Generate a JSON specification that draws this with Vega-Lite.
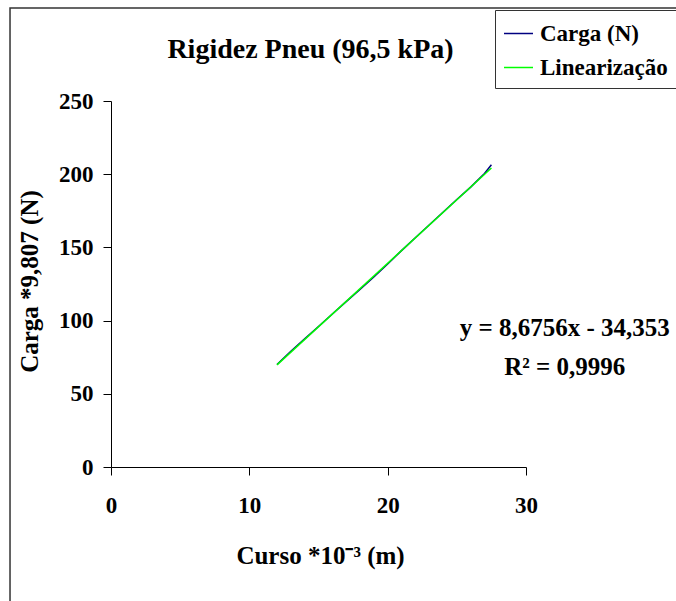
{
  "$schema": "https://vega.github.io/schema/vega-lite/v6.json",
  "width": 415,
  "height": 366,
  "autosize": {"type": "none"},
  "padding": {"left": 111, "top": 101, "right": 150, "bottom": 134},
  "background": "white",
  "config": {
    "font": "Liberation Serif",
    "view": {"stroke": null},
    "axis": {"grid": false, "labelFlush": false, "domainColor": "black", "tickColor": "black", "tickSize": 8, "labelFont": "Liberation Serif", "labelFontWeight": "bold", "labelFontSize": 23, "labelColor": "black", "titleFont": "Liberation Serif", "titleFontWeight": "bold", "titleFontSize": 25, "titleColor": "black"}
  },
  "title": {"text": "Rigidez Pneu (96,5 kPa)", "font": "Liberation Serif", "fontSize": 28, "fontWeight": "bold", "color": "black", "dx": -8, "offset": -57},
  "datasets": {
    "lines": [
      {"curso": 12, "carga": 70, "serie": "Carga (N)"},
      {"curso": 13, "carga": 79, "serie": "Carga (N)"},
      {"curso": 14, "carga": 87.5, "serie": "Carga (N)"},
      {"curso": 15, "carga": 96, "serie": "Carga (N)"},
      {"curso": 16, "carga": 104.5, "serie": "Carga (N)"},
      {"curso": 17, "carga": 113, "serie": "Carga (N)"},
      {"curso": 18, "carga": 121.3, "serie": "Carga (N)"},
      {"curso": 19, "carga": 129.8, "serie": "Carga (N)"},
      {"curso": 20, "carga": 138.7, "serie": "Carga (N)"},
      {"curso": 21, "carga": 147.8, "serie": "Carga (N)"},
      {"curso": 22, "carga": 156.6, "serie": "Carga (N)"},
      {"curso": 23, "carga": 165.3, "serie": "Carga (N)"},
      {"curso": 24, "carga": 174, "serie": "Carga (N)"},
      {"curso": 25, "carga": 182.7, "serie": "Carga (N)"},
      {"curso": 26, "carga": 191.2, "serie": "Carga (N)"},
      {"curso": 27, "carga": 200.5, "serie": "Carga (N)"},
      {"curso": 27.5, "carga": 206.5, "serie": "Carga (N)"},
      {"curso": 12, "carga": 69.75, "serie": "Linearização"},
      {"curso": 27.5, "carga": 204.2, "serie": "Linearização"}
    ],
    "notes": [
      {"curso": 32.8, "carga": 94.9, "label": "y = 8,6756x - 34,353"},
      {"curso": 32.8, "carga": 68.3, "label": "R² = 0,9996"}
    ],
    "frame": [
      {"x0": -7.3, "x1": 50, "y0": -92, "y1": 313.5}
    ]
  },
  "layer": [
    {
      "data": {"name": "frame"},
      "mark": {"type": "rect", "fill": null, "stroke": "#333", "strokeWidth": 1.5, "clip": false},
      "encoding": {
        "x": {"field": "x0", "type": "quantitative", "scale": {"domain": [0, 30]}},
        "x2": {"field": "x1"},
        "y": {"field": "y0", "type": "quantitative", "scale": {"domain": [0, 250]}},
        "y2": {"field": "y1"}
      }
    },
    {
      "data": {"name": "lines"},
      "mark": {"type": "line", "strokeWidth": 1.5},
      "encoding": {
        "x": {"field": "curso", "type": "quantitative", "scale": {"domain": [0, 30], "nice": false},
          "axis": {"values": [0, 10, 20, 30], "labelPadding": 19, "title": "Curso *10⁻³ (m)", "titleX": 209, "titleY": 88, "titleBaseline": "middle", "titleAlign": "center"}},
        "y": {"field": "carga", "type": "quantitative", "scale": {"domain": [0, 250], "nice": false},
          "axis": {"values": [0, 50, 100, 150, 200, 250], "labelPadding": 10, "title": "Carga *9,807 (N)", "titleAngle": -90, "titleX": -82, "titleY": 180, "titleBaseline": "middle", "titleAlign": "center"}},
        "color": {"field": "serie", "type": "nominal",
          "scale": {"domain": ["Carga (N)", "Linearização"], "range": ["#000080", "#00ff00"]},
          "legend": {"title": null, "orient": "none", "legendX": 384, "legendY": -91, "strokeColor": "#333", "fillColor": "white", "padding": 8, "symbolType": "stroke", "symbolSize": 841, "symbolStrokeWidth": 1.5, "labelFont": "Liberation Serif", "labelFontSize": 23, "labelFontWeight": "bold", "labelColor": "black", "labelOffset": 6, "rowPadding": 6, "labelLimit": 300}},
        "order": {"field": "curso", "type": "quantitative"}
      }
    },
    {
      "data": {"name": "notes"},
      "mark": {"type": "text", "font": "Liberation Serif", "fontSize": 25, "fontWeight": "bold", "color": "black", "align": "center", "baseline": "middle", "clip": false},
      "encoding": {
        "x": {"field": "curso", "type": "quantitative"},
        "y": {"field": "carga", "type": "quantitative"},
        "text": {"field": "label"}
      }
    }
  ]
}
